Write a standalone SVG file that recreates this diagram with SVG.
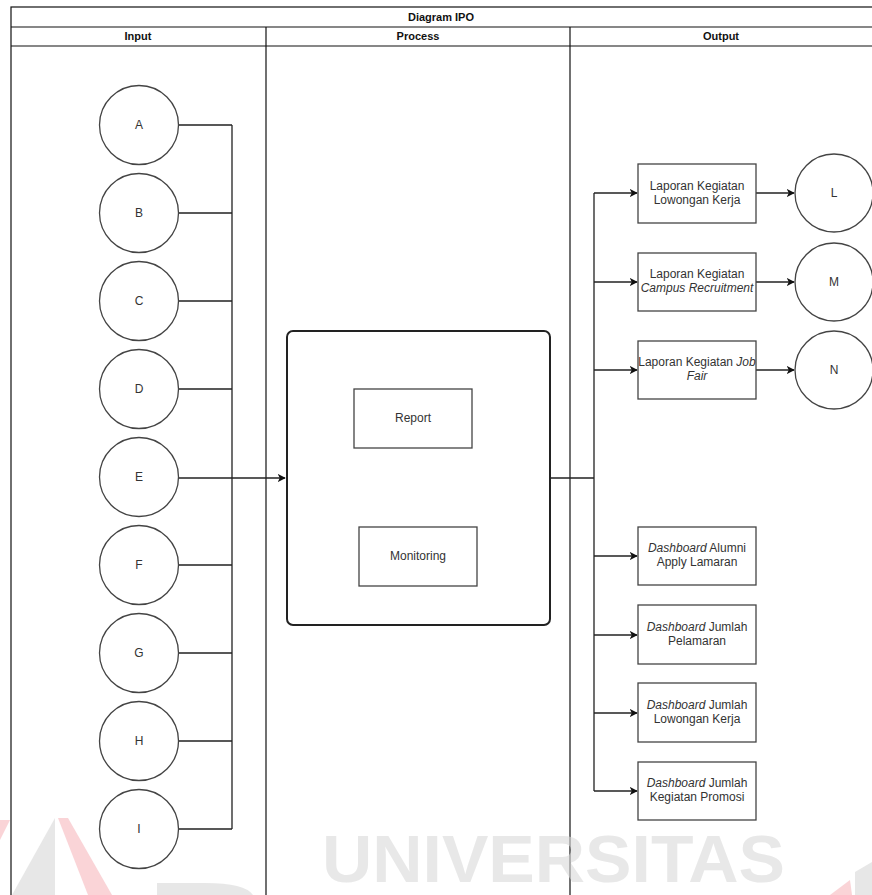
<svg xmlns="http://www.w3.org/2000/svg" width="872" height="895" viewBox="0 0 872 895">
  <style>
    text { font-family: "Liberation Sans", Arial, sans-serif; font-size: 12px; fill: #333; }
    .hdr { font-weight: bold; font-size: 11px; text-anchor: middle; fill: #111; }
    .lbl { text-anchor: middle; }
    .it { font-style: italic; }
    .frame { fill: none; stroke: #111; stroke-width: 1.2; }
    .shape { fill: #fff; stroke: #444; stroke-width: 1.3; }
    .edge { fill: none; stroke: #222; stroke-width: 1.3; }
    .wm { font-family: "Liberation Sans", Arial, sans-serif; font-weight: bold; font-size: 67px; fill: #dadada; }
  </style>
  <defs>
    <marker id="arrow" viewBox="0 0 10 10" refX="9" refY="5" markerWidth="8" markerHeight="8" markerUnits="userSpaceOnUse" orient="auto">
      <path d="M0,0 L10,5 L0,10 L2.5,5 Z" fill="#111"/>
    </marker>
  </defs>

  <rect width="872" height="895" fill="#fff"/>

  <!-- swimlane frame -->
  <g id="lanes">
    <rect class="frame" x="11" y="7" width="880" height="900"/>
    <line class="frame" x1="11" y1="27" x2="872" y2="27"/>
    <line class="frame" x1="11" y1="46" x2="872" y2="46"/>
    <line class="frame" x1="266" y1="27" x2="266" y2="895"/>
    <line class="frame" x1="570" y1="27" x2="570" y2="895"/>
    <text class="hdr" x="441" y="21">Diagram IPO</text>
    <text class="hdr" x="138" y="40">Input</text>
    <text class="hdr" x="418" y="40">Process</text>
    <text class="hdr" x="721" y="40">Output</text>
  </g>

  <!-- connectors -->
  <g id="connectors">
    <path class="edge" d="M178,125 H232 M178,213 H232 M178,301 H232 M178,389 H232 M178,565 H232 M178,653 H232 M178,741 H232 M178,829 H232 M232,125 V829"/>
    <path class="edge" d="M178,478 H285" marker-end="url(#arrow)"/>
    <path class="edge" d="M550,478 H594 M594,193 V791"/>
    <path class="edge" d="M594,193 H637" marker-end="url(#arrow)"/>
    <path class="edge" d="M594,282 H637" marker-end="url(#arrow)"/>
    <path class="edge" d="M594,370 H637" marker-end="url(#arrow)"/>
    <path class="edge" d="M594,556 H637" marker-end="url(#arrow)"/>
    <path class="edge" d="M594,635 H637" marker-end="url(#arrow)"/>
    <path class="edge" d="M594,713 H637" marker-end="url(#arrow)"/>
    <path class="edge" d="M594,791 H637" marker-end="url(#arrow)"/>
    <path class="edge" d="M756,193 H794" marker-end="url(#arrow)"/>
    <path class="edge" d="M756,282 H794" marker-end="url(#arrow)"/>
    <path class="edge" d="M756,370 H794" marker-end="url(#arrow)"/>
  </g>

  <!-- inputs -->
  <g id="input-A"><circle class="shape" cx="139" cy="125" r="39.5"/><text class="lbl" x="139" y="129">A</text></g>
  <g id="input-B"><circle class="shape" cx="139" cy="213" r="39.5"/><text class="lbl" x="139" y="217">B</text></g>
  <g id="input-C"><circle class="shape" cx="139" cy="301" r="39.5"/><text class="lbl" x="139" y="305">C</text></g>
  <g id="input-D"><circle class="shape" cx="139" cy="389" r="39.5"/><text class="lbl" x="139" y="393">D</text></g>
  <g id="input-E"><circle class="shape" cx="139" cy="477" r="39.5"/><text class="lbl" x="139" y="481">E</text></g>
  <g id="input-F"><circle class="shape" cx="139" cy="565" r="39.5"/><text class="lbl" x="139" y="569">F</text></g>
  <g id="input-G"><circle class="shape" cx="139" cy="653" r="39.5"/><text class="lbl" x="139" y="657">G</text></g>
  <g id="input-H"><circle class="shape" cx="139" cy="741" r="39.5"/><text class="lbl" x="139" y="745">H</text></g>
  <g id="input-I"><circle class="shape" cx="139" cy="829" r="39.5"/><text class="lbl" x="139" y="833">I</text></g>

  <!-- process -->
  <g id="process">
    <rect x="287" y="331" width="263" height="294" rx="6" fill="#fff" stroke="#222" stroke-width="2"/>
  </g>
  <g id="report"><rect class="shape" x="354" y="389" width="118" height="59"/><text class="lbl" x="413" y="422">Report</text></g>
  <g id="monitoring"><rect class="shape" x="359" y="527" width="118" height="59"/><text class="lbl" x="418" y="560">Monitoring</text></g>

  <!-- outputs -->
  <g id="out-lowongan"><rect class="shape" x="638" y="164" width="118" height="59"/>
    <text class="lbl" x="697" y="190">Laporan Kegiatan</text><text class="lbl" x="697" y="204">Lowongan Kerja</text></g>
  <g id="out-campus"><rect class="shape" x="638" y="253" width="118" height="58"/>
    <text class="lbl" x="697" y="278">Laporan Kegiatan</text><text class="lbl it" x="697" y="292">Campus Recruitment</text></g>
  <g id="out-jobfair"><rect class="shape" x="638" y="341" width="118" height="58"/>
    <text class="lbl" x="697" y="366">Laporan Kegiatan <tspan class="it">Job</tspan></text><text class="lbl it" x="697" y="380">Fair</text></g>
  <g id="out-L"><circle class="shape" cx="834" cy="193" r="39"/><text class="lbl" x="834" y="197">L</text></g>
  <g id="out-M"><circle class="shape" cx="834" cy="282" r="39"/><text class="lbl" x="834" y="286">M</text></g>
  <g id="out-N"><circle class="shape" cx="834" cy="370" r="39"/><text class="lbl" x="834" y="374">N</text></g>

  <g id="dash-alumni"><rect class="shape" x="638" y="527" width="118" height="58"/>
    <text class="lbl" x="697" y="552"><tspan class="it">Dashboard</tspan> Alumni</text><text class="lbl" x="697" y="566">Apply Lamaran</text></g>
  <g id="dash-pelamaran"><rect class="shape" x="638" y="605" width="118" height="59"/>
    <text class="lbl" x="697" y="631"><tspan class="it">Dashboard</tspan> Jumlah</text><text class="lbl" x="697" y="645">Pelamaran</text></g>
  <g id="dash-lowongan"><rect class="shape" x="638" y="683" width="118" height="59"/>
    <text class="lbl" x="697" y="709"><tspan class="it">Dashboard</tspan> Jumlah</text><text class="lbl" x="697" y="723">Lowongan Kerja</text></g>
  <g id="dash-promosi"><rect class="shape" x="638" y="762" width="118" height="58"/>
    <text class="lbl" x="697" y="787"><tspan class="it">Dashboard</tspan> Jumlah</text><text class="lbl" x="697" y="801">Kegiatan Promosi</text></g>

  <!-- faint watermark -->
  <g id="watermark" opacity="0.6">
    <polygon points="0,820 10,820 0,840" fill="#f7b8be"/>
    <polygon points="55,818 55,895 12,895" fill="#d8d8d8"/>
    <polygon points="58,818 68,818 112,895 88,895" fill="#f7b8be"/>
    <path d="M157,895 V883 H205 Q245,883 253,895 Z" fill="#d8d8d8"/>
    <polygon points="830,895 850,880 852,895" fill="#f7b8be"/>
    <polygon points="855,872 872,862 872,895 855,895" fill="#d8d8d8"/>
    <text class="wm" x="322" y="882" textLength="463" lengthAdjust="spacingAndGlyphs">UNIVERSITAS</text>
  </g>
</svg>
